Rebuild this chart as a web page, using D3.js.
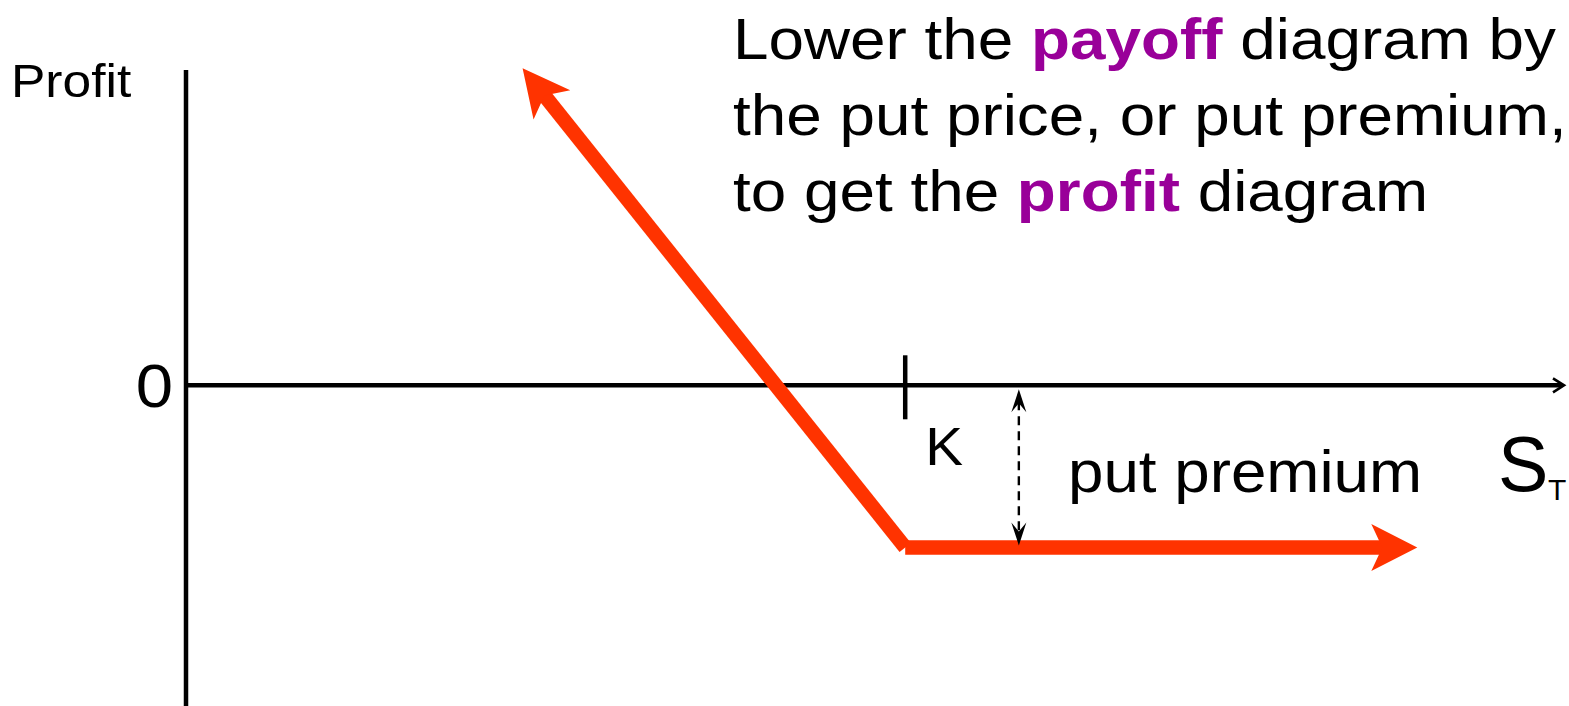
<!DOCTYPE html>
<html>
<head>
<meta charset="utf-8">
<script src="https://cdn.jsdelivr.net/npm/d3@7"></script>
<style>
  html, body { margin: 0; padding: 0; background: #fff; }
  svg { display: block; font-family: "Liberation Sans", Arial, sans-serif; }
</style>
</head>
<body>
<svg id="chart" width="1569" height="706"></svg>
<script>
// ---- data ----
const strike = 50;                 // K
const premium = 9;                 // put premium
const xDomain = [0, 95.8];         // stock price at expiry S_T
const yDomain = [-17.8, 17.5];     // profit
const profitSlope = [ {s: 23.4, p: 17.6}, {s: 50, p: -9} ];   // S < K
const profitFlat  = [ {s: 50, p: -9}, {s: 85.6, p: -9} ];      // S >= K
const premiumMarkS = 57.9;
const titleLines = [
  [ {t: "Lower the "}, {t: "payoff", hl: true}, {t: " diagram by"} ],
  [ {t: "the put price, or put premium,"} ],
  [ {t: "to get the "}, {t: "profit", hl: true}, {t: " diagram"} ]
];
const yLabel = "Profit";
const xLabel = "S";
const xLabelSub = "T";
const zeroLabel = "0";
const strikeLabel = "K";
const premiumLabel = "put premium";

// ---- layout ----
const svg = d3.select("#chart");
const x = d3.scaleLinear().domain(xDomain).range([186, 1564]);
const y = d3.scaleLinear().domain(yDomain).range([706, 70]);
const RED = "#ff3300", PURPLE = "#990099";

function stealth(g, tip, from, len, hw, notch, fill) {
  const dx = tip[0] - from[0], dy = tip[1] - from[1];
  const L = Math.hypot(dx, dy), ux = dx / L, uy = dy / L;
  const px = -uy, py = ux;
  const bx = tip[0] - ux * len, by = tip[1] - uy * len;
  const pts = [
    tip,
    [bx + px * hw, by + py * hw],
    [tip[0] - ux * notch, tip[1] - uy * notch],
    [bx - px * hw, by - py * hw]
  ];
  g.append("path").attr("d", d3.line()(pts) + "Z").attr("fill", fill);
}
function shorten(a, b, d) { // move point b toward a by d
  const dx = b[0] - a[0], dy = b[1] - a[1], L = Math.hypot(dx, dy);
  return [b[0] - dx / L * d, b[1] - dy / L * d];
}

// axes
const yAxisX = x(0), xAxisY = y(0);
svg.append("line").attr("x1", yAxisX).attr("x2", yAxisX)
  .attr("y1", y(yDomain[1])).attr("y2", y(yDomain[0]))
  .attr("stroke", "#000").attr("stroke-width", 4.5);
const xEnd = [x(xDomain[1]), xAxisY];
svg.append("line").attr("x1", yAxisX).attr("y1", xAxisY)
  .attr("x2", xEnd[0] - 2).attr("y2", xAxisY)
  .attr("stroke", "#000").attr("stroke-width", 4.5);
svg.append("path")
  .attr("d", d3.line()([[xEnd[0] - 11, xAxisY - 7], [xEnd[0], xAxisY], [xEnd[0] - 11, xAxisY + 7]]))
  .attr("fill", "none").attr("stroke", "#000").attr("stroke-width", 2.6)
  .attr("stroke-linejoin", "miter");

// strike tick
svg.append("line").attr("x1", x(strike)).attr("x2", x(strike))
  .attr("y1", xAxisY - 30).attr("y2", xAxisY + 34)
  .attr("stroke", "#000").attr("stroke-width", 4.5);

// profit lines
function ends(data) {
  return {a: [x(data[0].s), y(data[0].p)], b: [x(data[1].s), y(data[1].p)]};
}
{
  const {a, b} = ends(profitSlope); // a = arrow tip (upper-left), b = corner
  const aShort = shorten(b, a, 30);
  svg.append("line").attr("x1", b[0]).attr("y1", b[1])
    .attr("x2", aShort[0]).attr("y2", aShort[1])
    .attr("stroke", RED).attr("stroke-width", 14.5);
  stealth(svg, a, b, 47, 23.5, 35, RED);
}
{
  const {a, b} = ends(profitFlat);
  const bShort = shorten(a, b, 30);
  svg.append("line").attr("x1", a[0]).attr("y1", a[1])
    .attr("x2", bShort[0]).attr("y2", bShort[1])
    .attr("stroke", RED).attr("stroke-width", 14.5);
  stealth(svg, b, a, 46, 23.5, 35, RED);
}

// premium dashed double arrow
{
  const top = [x(premiumMarkS), y(0) + 4], bot = [x(premiumMarkS), y(-premium) - 2];
  const t2 = shorten(bot, top, 12), b2 = shorten(top, bot, 12);
  svg.append("line").attr("x1", t2[0]).attr("y1", t2[1])
    .attr("x2", b2[0]).attr("y2", b2[1])
    .attr("stroke", "#000").attr("stroke-width", 2.4)
    .attr("stroke-dasharray", "9,6");
  stealth(svg, top, bot, 23, 7.5, 14, "#000");
  stealth(svg, bot, top, 23, 7.5, 14, "#000");
}

// text helper
function label(xp, yp, size, content, sx, opts = {}) {
  const t = svg.append("text")
    .attr("transform", `translate(${xp},${yp}) scale(${sx},1)`)
    .attr("font-size", size)
    .attr("text-anchor", opts.anchor || "start")
    .attr("fill", "#000");
  if (typeof content === "string") t.text(content);
  else content.forEach(p => t.append("tspan").text(p.t)
      .attr("fill", p.hl ? PURPLE : "#000")
      .attr("font-weight", p.hl ? "bold" : "normal"));
  return t;
}
label(11, 97, 46, yLabel, 1.12);
label(yAxisX - 13, xAxisY + 22, 61, zeroLabel, 1.1, {anchor: "end"});
label(x(strike) + 20, 465, 54, strikeLabel, 1.05);
label(1068, 492, 59, premiumLabel, 1.08);
label(1498, 491, 77, xLabel, 0.98);
label(1548, 500, 30, xLabelSub, 1.0);
titleLines.forEach((ln, i) => label(733, 59 + i * 76, 57, ln, 1.12));
</script>
</body>
</html>
